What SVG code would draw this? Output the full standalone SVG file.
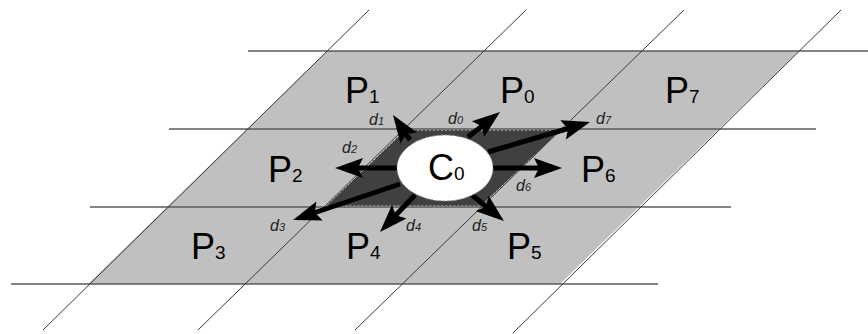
<svg xmlns="http://www.w3.org/2000/svg" width="868" height="334" viewBox="0 0 868 334">
<style>
.h{stroke:#5a5a5a;stroke-width:1.5;fill:none}
.dg{stroke:#3a3a3a;stroke-width:1;fill:none}
.big{font-family:"Liberation Sans",Arial,sans-serif;font-size:36px;fill:#000}
.sub{font-size:19px}
.d{font-family:"Liberation Sans",Arial,sans-serif;font-style:italic;font-size:16px;fill:#222}
.ds{font-size:11px}
.arr{stroke:#000;stroke-width:5;fill:none;marker-end:url(#ah)}
</style>
<defs>
<marker id="ah" markerUnits="userSpaceOnUse" markerWidth="30" markerHeight="22" refX="14" refY="11" orient="auto" viewBox="0 0 30 22">
<path d="M0,1 L28,11 L0,21 L5,11 z" fill="#000"/>
</marker>
</defs>
<rect width="868" height="334" fill="#fff"/>
<g id="grid">
<polygon points="327,51 799,51 560,284 88,284" fill="#c0c0c0"/>
<polygon id="center-cell" points="405,130 561,130 481,206 326,206" fill="#404040" stroke="#ddd" stroke-width="1" stroke-dasharray="2,2"/>
<line class="h" x1="248" y1="51" x2="868" y2="51"/>
<line class="h" x1="169" y1="129" x2="816" y2="129"/>
<line class="h" x1="90" y1="207" x2="731" y2="207"/>
<line class="h" x1="11" y1="284" x2="658" y2="284"/>
<line class="dg" x1="369" y1="10" x2="43" y2="330"/>
<line class="dg" x1="526" y1="10" x2="198" y2="330"/>
<line class="dg" x1="684" y1="10" x2="355" y2="330"/>
<line class="dg" x1="841" y1="10" x2="513" y2="333"/>
</g>
<g id="P1"><text class="big" x="345" y="103">P<tspan class="sub">1</tspan></text></g>
<g id="P0"><text class="big" x="500" y="103">P<tspan class="sub">0</tspan></text></g>
<g id="P7"><text class="big" x="665" y="103">P<tspan class="sub">7</tspan></text></g>
<g id="P2"><text class="big" x="268" y="182">P<tspan class="sub">2</tspan></text></g>
<g id="P6"><text class="big" x="581" y="182">P<tspan class="sub">6</tspan></text></g>
<g id="P3"><text class="big" x="191" y="259">P<tspan class="sub">3</tspan></text></g>
<g id="P4"><text class="big" x="346" y="259">P<tspan class="sub">4</tspan></text></g>
<g id="P5"><text class="big" x="507" y="259">P<tspan class="sub">5</tspan></text></g>
<g id="connectors">
<line class="arr" x1="468" y1="137" x2="489" y2="120.6"/>
<line class="arr" x1="410" y1="140" x2="400.9" y2="126.6"/>
<line class="arr" x1="397" y1="168" x2="349" y2="168"/>
<line class="arr" x1="400" y1="184" x2="306.3" y2="215.5"/>
<line class="arr" x1="415" y1="195" x2="389.6" y2="221.8"/>
<line class="arr" x1="472" y1="195" x2="493.1" y2="212.2"/>
<line class="arr" x1="493" y1="168" x2="548" y2="168"/>
<line class="arr" x1="488" y1="152" x2="576.6" y2="126"/>
<text class="d" x="448" y="124">d<tspan class="ds">0</tspan></text>
<text class="d" x="369" y="125">d<tspan class="ds">1</tspan></text>
<text class="d" x="342" y="153">d<tspan class="ds">2</tspan></text>
<text class="d" x="270" y="231">d<tspan class="ds">3</tspan></text>
<text class="d" x="406" y="231">d<tspan class="ds">4</tspan></text>
<text class="d" x="472" y="231">d<tspan class="ds">5</tspan></text>
<text class="d" x="516" y="191">d<tspan class="ds">6</tspan></text>
<text class="d" x="596" y="124">d<tspan class="ds">7</tspan></text>
</g>
<g id="C0">
<ellipse cx="445" cy="168" rx="48" ry="33" fill="#fff" stroke="#999" stroke-width="1" stroke-dasharray="2,2"/>
<text class="big" x="428" y="180">C<tspan class="sub">0</tspan></text>
</g>
</svg>
